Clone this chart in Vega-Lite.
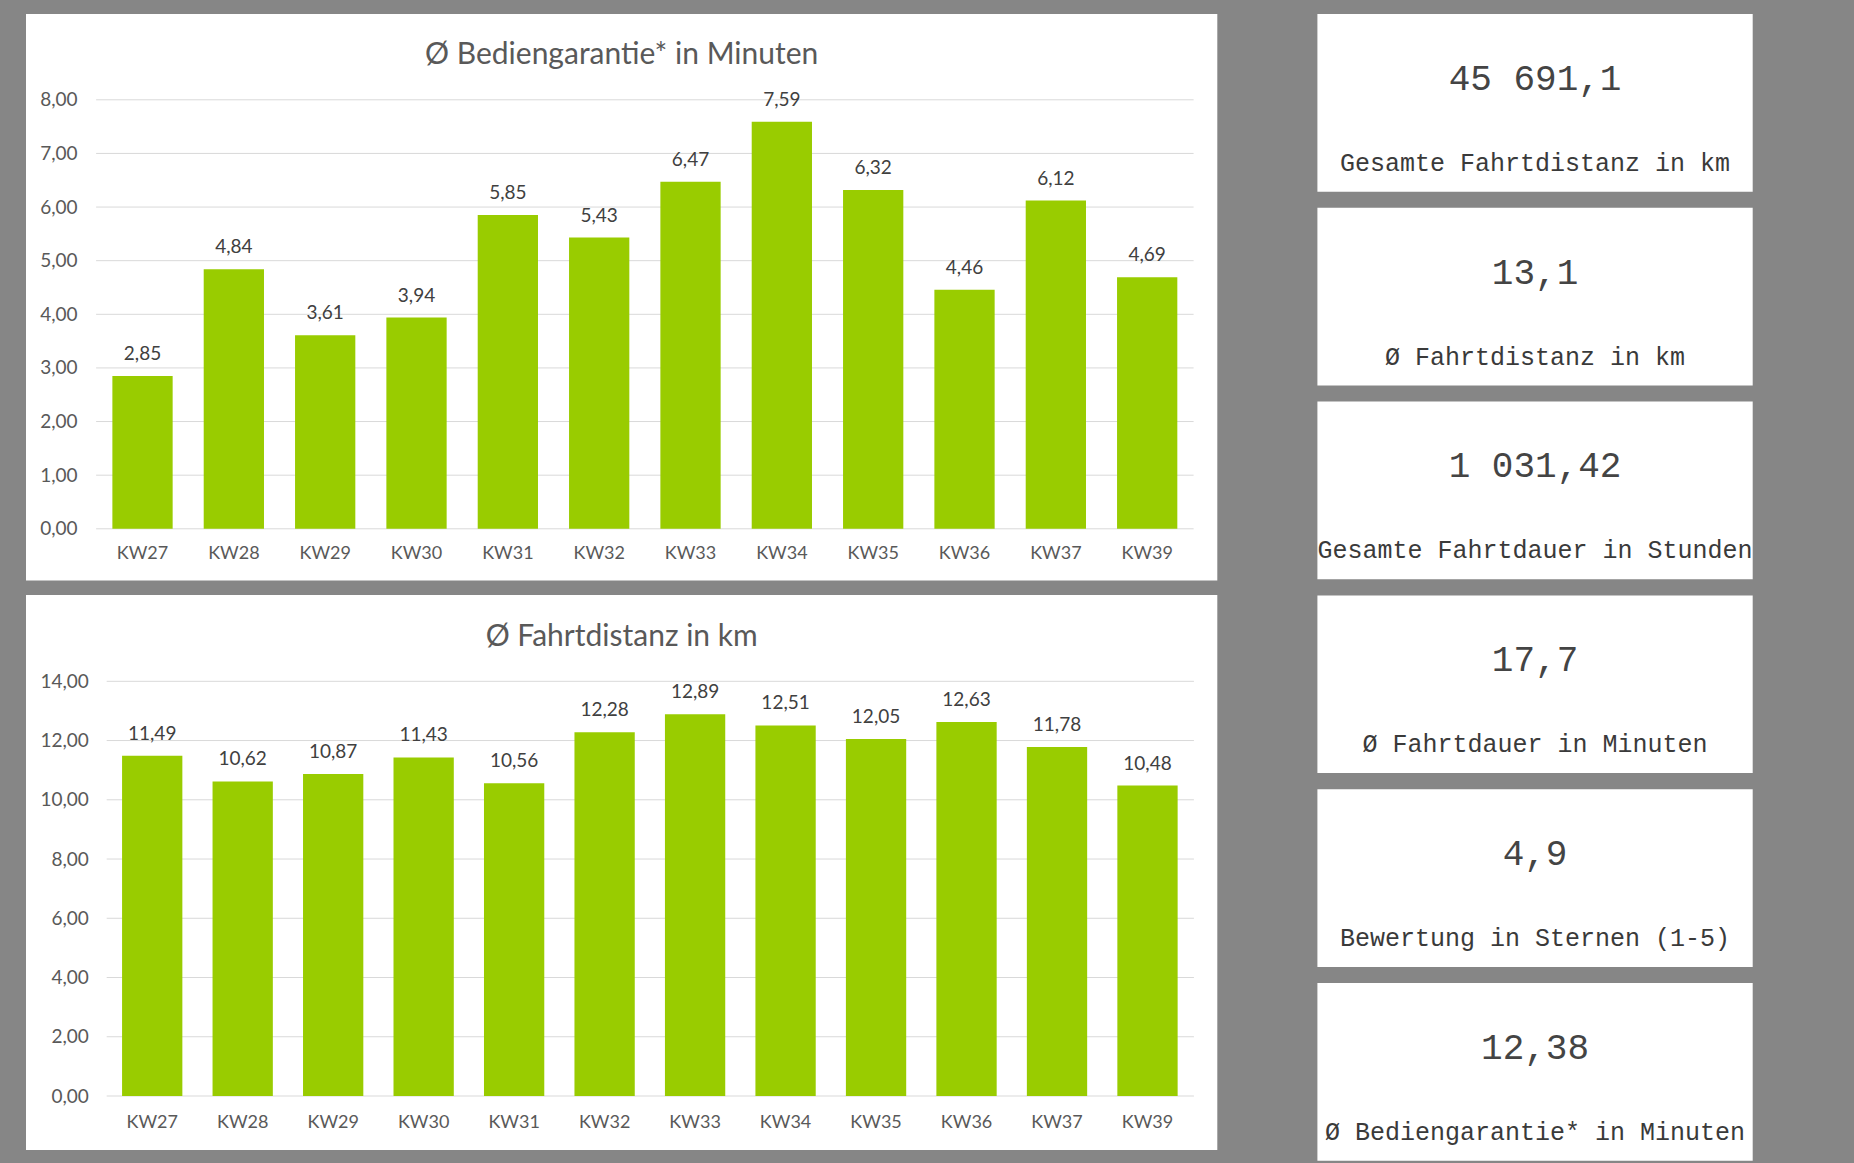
{
  "$schema": "https://vega.github.io/schema/vega-lite/v6.json",
  "background": "#868686",
  "padding": {"left": 26, "top": 14, "right": 102, "bottom": 4},
  "autosize": {"type": "pad"},
  "config": {
    "locale": {"number": {"decimal": ",", "thousands": ".", "grouping": [3], "currency": ["", " €"]}},
    "view": {"fill": "white", "stroke": null},
    "font": "Lato"
  },
  "datasets": {
    "bg": [
      {"week": "KW27", "value": 2.85}, {"week": "KW28", "value": 4.84}, {"week": "KW29", "value": 3.61},
      {"week": "KW30", "value": 3.94}, {"week": "KW31", "value": 5.85}, {"week": "KW32", "value": 5.43},
      {"week": "KW33", "value": 6.47}, {"week": "KW34", "value": 7.59}, {"week": "KW35", "value": 6.32},
      {"week": "KW36", "value": 4.46}, {"week": "KW37", "value": 6.12}, {"week": "KW39", "value": 4.69}
    ],
    "fd": [
      {"week": "KW27", "value": 11.49}, {"week": "KW28", "value": 10.62}, {"week": "KW29", "value": 10.87},
      {"week": "KW30", "value": 11.43}, {"week": "KW31", "value": 10.56}, {"week": "KW32", "value": 12.28},
      {"week": "KW33", "value": 12.89}, {"week": "KW34", "value": 12.51}, {"week": "KW35", "value": 12.05},
      {"week": "KW36", "value": 12.63}, {"week": "KW37", "value": 11.78}, {"week": "KW39", "value": 10.48}
    ],
    "grid_bg": [{"v": 0}, {"v": 1}, {"v": 2}, {"v": 3}, {"v": 4}, {"v": 5}, {"v": 6}, {"v": 7}, {"v": 8}],
    "grid_fd": [{"v": 0}, {"v": 2}, {"v": 4}, {"v": 6}, {"v": 8}, {"v": 10}, {"v": 12}, {"v": 14}],
    "kpi": [
      {"wert": "45 691,1", "label": "Gesamte Fahrtdistanz in km"},
      {"wert": "13,1", "label": "Ø Fahrtdistanz in km"},
      {"wert": "1 031,42", "label": "Gesamte Fahrtdauer in Stunden"},
      {"wert": "17,7", "label": "Ø Fahrtdauer in Minuten"},
      {"wert": "4,9", "label": "Bewertung in Sternen (1-5)"},
      {"wert": "12,38", "label": "Ø Bediengarantie* in Minuten"}
    ]
  },
  "spacing": 99.4,
  "hconcat": [
    {
      "spacing": 14,
      "vconcat": [
        {
          "width": 1191.3,
          "height": 566.5,
          "title": {"text": "Ø Bediengarantie* in Minuten", "fontSize": 30, "font": "Lato", "fontWeight": "normal", "color": "#595959", "anchor": "middle", "offset": -55.6},
          "layer": [
            {
              "data": {"name": "grid_bg"},
              "mark": {"type": "rule", "color": "#d9d9d9", "strokeWidth": 1},
              "encoding": {
                "y": {"field": "v", "type": "quantitative"},
                "x": {"datum": "KW27", "type": "nominal", "bandPosition": -0.27},
                "x2": {"datum": "KW39", "bandPosition": 1.27}
              }
            },
            {
              "data": {"name": "bg"},
              "mark": {"type": "bar", "color": "#99cc00"},
              "encoding": {
                "x": {
                  "field": "week", "type": "nominal",
                  "scale": {"domain": ["KW27","KW28","KW29","KW30","KW31","KW32","KW33","KW34","KW35","KW36","KW37","KW39"], "paddingInner": 0.34, "paddingOuter": 0.6917, "align": 0.6836, "round": false},
                  "axis": {"orient": "bottom", "offset": -51.7, "bandPosition": 0.5, "title": null, "labelAngle": 0, "labelAlign": "center", "ticks": false, "tickSize": 0, "domain": false, "grid": false, "labelFont": "Lato", "labelFontSize": 18, "labelColor": "#595959", "labelPadding": 25}
                },
                "y": {
                  "field": "value", "type": "quantitative",
                  "scale": {"domain": [-0.964, 9.6], "nice": false, "zero": false},
                  "axis": {"orient": "left", "offset": -69.7, "title": null, "values": [0,1,2,3,4,5,6,7,8], "format": ".2f", "ticks": false, "tickSize": 0, "domain": false, "grid": false, "labelFont": "Lato", "labelFontSize": 19, "labelColor": "#595959", "labelPadding": 18.7}
                },
                "y2": {"datum": 0}
              }
            },
            {
              "data": {"name": "bg"},
              "mark": {"type": "text", "font": "Lato", "fontSize": 19, "color": "#404040", "baseline": "middle", "dy": -22},
              "encoding": {
                "x": {"field": "week", "type": "nominal"},
                "y": {"field": "value", "type": "quantitative"},
                "text": {"field": "value", "type": "quantitative", "format": ".2f"}
              }
            }
          ]
        },
        {
          "width": 1191.3,
          "height": 555,
          "title": {"text": "Ø Fahrtdistanz in km", "fontSize": 30, "font": "Lato", "fontWeight": "normal", "color": "#595959", "anchor": "middle", "offset": -56.9},
          "layer": [
            {
              "data": {"name": "grid_fd"},
              "mark": {"type": "rule", "color": "#d9d9d9", "strokeWidth": 1},
              "encoding": {
                "y": {"field": "v", "type": "quantitative"},
                "x": {"datum": "KW27", "type": "nominal", "bandPosition": -0.255},
                "x2": {"datum": "KW39", "bandPosition": 1.27}
              }
            },
            {
              "data": {"name": "fd"},
              "mark": {"type": "bar", "color": "#99cc00"},
              "encoding": {
                "x": {
                  "field": "week", "type": "nominal",
                  "scale": {"domain": ["KW27","KW28","KW29","KW30","KW31","KW32","KW33","KW34","KW35","KW36","KW37","KW39"], "paddingInner": 0.3336, "paddingOuter": 0.75, "align": 0.7078, "round": false},
                  "axis": {"orient": "bottom", "offset": -54, "bandPosition": 0.5, "title": null, "labelAngle": 0, "labelAlign": "center", "ticks": false, "tickSize": 0, "domain": false, "grid": false, "labelFont": "Lato", "labelFontSize": 18, "labelColor": "#595959", "labelPadding": 26.5}
                },
                "y": {
                  "field": "value", "type": "quantitative",
                  "scale": {"domain": [-1.823, 16.914], "nice": false, "zero": false},
                  "axis": {"orient": "left", "offset": -80.7, "title": null, "values": [0,2,4,6,8,10,12,14], "format": ".2f", "ticks": false, "tickSize": 0, "domain": false, "grid": false, "labelFont": "Lato", "labelFontSize": 19, "labelColor": "#595959", "labelPadding": 18.4}
                },
                "y2": {"datum": 0}
              }
            },
            {
              "data": {"name": "fd"},
              "mark": {"type": "text", "font": "Lato", "fontSize": 19, "color": "#404040", "baseline": "middle", "dy": -22},
              "encoding": {
                "x": {"field": "week", "type": "nominal"},
                "y": {"field": "value", "type": "quantitative"},
                "text": {"field": "value", "type": "quantitative", "format": ".2f"}
              }
            }
          ]
        }
      ]
    },
    {
      "data": {"name": "kpi"},
      "facet": {
        "row": {
          "field": "label", "type": "nominal",
          "sort": ["Gesamte Fahrtdistanz in km", "Ø Fahrtdistanz in km", "Gesamte Fahrtdauer in Stunden", "Ø Fahrtdauer in Minuten", "Bewertung in Sternen (1-5)", "Ø Bediengarantie* in Minuten"],
          "header": {"title": null, "labels": false}
        }
      },
      "spacing": 15.8,
      "spec": {
        "width": 435.3,
        "height": 177.7,
        "layer": [
          {
            "mark": {"type": "text", "font": "Liberation Mono", "fontSize": 36, "color": "#444444", "clip": true},
            "encoding": {
              "text": {"field": "wert", "type": "nominal"},
              "y": {"datum": "wert", "type": "nominal", "scale": {"type": "point", "domain": ["wert", "label"], "padding": 0.5577, "align": 0.6926}, "axis": null}
            }
          },
          {
            "mark": {"type": "text", "font": "Liberation Mono", "fontSize": 25, "color": "#3a3a3a", "clip": true},
            "encoding": {
              "text": {"field": "label", "type": "nominal"},
              "y": {"datum": "label", "type": "nominal"}
            }
          }
        ]
      }
    }
  ]
}
